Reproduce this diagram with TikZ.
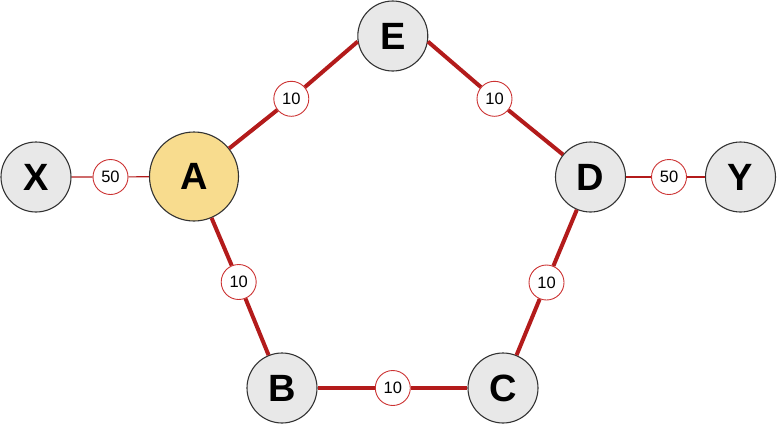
\documentclass[tikz,border=0pt]{standalone}
\usepackage{fontspec}
\setmainfont{Liberation Sans}
\definecolor{edgered}{HTML}{B31B1B}
\definecolor{labred}{HTML}{CC3333}
\definecolor{nodegray}{HTML}{E8E8E8}
\definecolor{nodeyellow}{HTML}{F8DC8E}
\definecolor{outlinegray}{HTML}{333333}
\begin{document}
\begin{tikzpicture}[x=1pt,y=-1pt,
  vert/.style={circle,draw=outlinegray,line width=1.1pt,fill=nodegray,minimum size=70pt,inner sep=0pt,font=\fontsize{38}{38}\selectfont\bfseries},
  bigvert/.style={vert,fill=nodeyellow,minimum size=89pt},
  lab/.style={circle,draw=labred,line width=0.9pt,fill=white,minimum size=35pt,inner sep=0pt,font=\fontsize{16.5}{16.5}\selectfont},
  thickedge/.style={draw=edgered,line width=4pt},
  thinedge/.style={draw=edgered,line width=1.2pt}]
\useasboundingbox (0,0) rectangle (777,424);
% vertices
\node[vert] (X) at (36,177) {X};
\node[bigvert] (A) at (194,176.5) {A};
\node[vert] (E) at (392.8,36) {E};
\node[vert] (D) at (590.5,177) {D};
\node[vert] (Y) at (740.5,177) {Y};
\node[vert] (B) at (282,388) {B};
\node[vert] (C) at (503,388) {C};
% weight labels
\node[lab] (lXA) at (110.5,177) {50};
\node[lab] (lAE) at (291.3,98.8) {10};
\node[lab] (lED) at (494.5,98.8) {10};
\node[lab] (lDY) at (669,177) {50};
\node[lab] (lAB) at (238.7,282) {10};
\node[lab] (lCD) at (546.5,282.5) {10};
\node[lab] (lBC) at (392.8,388) {10};
% connectors
\draw[thinedge] (X) -- (lXA) -- (A);
\draw[thinedge] (D) -- (lDY) -- (Y);
\draw[thickedge] (A) -- (lAE) -- (E.189);
\draw[thickedge] (E.351) -- (lED) -- (D);
\draw[thickedge] (A) -- (lAB) -- (B);
\draw[thickedge] (B) -- (lBC) -- (C);
\draw[thickedge] (C) -- (lCD) -- (D);
\end{tikzpicture}
\end{document}
